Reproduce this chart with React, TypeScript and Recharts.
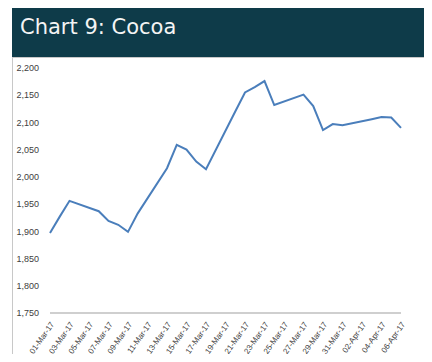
import React from 'react';
import { LineChart, Line, XAxis, YAxis } from 'recharts';

const dates = [
  '01-Mar-17', '02-Mar-17', '03-Mar-17', '06-Mar-17', '07-Mar-17', '08-Mar-17', '09-Mar-17', '10-Mar-17',
  '13-Mar-17', '14-Mar-17', '15-Mar-17', '16-Mar-17', '17-Mar-17', '20-Mar-17', '21-Mar-17', '22-Mar-17',
  '23-Mar-17', '24-Mar-17', '27-Mar-17', '28-Mar-17', '29-Mar-17', '30-Mar-17', '31-Mar-17', '03-Apr-17',
  '04-Apr-17', '05-Apr-17', '06-Apr-17',
];
const prices = [
  1897, 1927, 1956, 1937, 1919, 1912, 1899, 1933,
  2016, 2059, 2050, 2028, 2014, 2120, 2155, 2165,
  2176, 2132, 2151, 2130, 2086, 2097, 2095, 2106,
  2110, 2109, 2090,
];
const tickLabels = [
  '01-Mar-17', '03-Mar-17', '05-Mar-17', '07-Mar-17', '09-Mar-17', '11-Mar-17', '13-Mar-17', '15-Mar-17',
  '17-Mar-17', '19-Mar-17', '21-Mar-17', '23-Mar-17', '25-Mar-17', '27-Mar-17', '29-Mar-17', '31-Mar-17',
  '02-Apr-17', '04-Apr-17', '06-Apr-17',
];
const yTicks = [1750, 1800, 1850, 1900, 1950, 2000, 2050, 2100, 2150, 2200];

const dayIndex = (s: string) => {
  const [d, m] = s.split('-');
  return parseInt(d, 10) - 1 + (m === 'Apr' ? 31 : 0);
};

const data = dates.map((d, i) => ({ day: dayIndex(d), price: prices[i] }));
const xTicks = tickLabels.map(dayIndex);
const labelFor = (v: number) => tickLabels[xTicks.indexOf(v)] ?? '';

export default function App() {
  return (
    <div style={{ position: 'relative', margin: -8, width: 432, height: 362, background: '#fff', overflow: 'hidden' }}>
      <div
        style={{
          position: 'absolute', left: 12, top: 6, width: 416, height: 51, background: '#0e3b49',
          color: '#f4f4f4', fontFamily: '"DejaVu Sans", sans-serif', fontSize: 21, lineHeight: 'normal',
          paddingTop: 9, paddingLeft: 8, boxSizing: 'border-box',
        }}
      >
        Chart 9: Cocoa
      </div>
      <div
        style={{
          position: 'absolute', left: 12, top: 57, width: 416, height: 320, border: '1px solid #c8c8c8',
          boxSizing: 'border-box',
        }}
      />
      <div style={{ position: 'absolute', left: 12, top: 57 }}>
        <LineChart width={416} height={305} data={data} margin={{ top: 11, right: 27, left: 0, bottom: 4 }}>
          <YAxis
            type="number"
            domain={[1750, 2200]}
            ticks={yTicks}
            width={38}
            axisLine={false}
            tickLine={false}
            tickMargin={5}
            tickFormatter={(v: number) => v.toLocaleString('en-US')}
            tick={{ fontSize: 9, fill: '#404040', fontFamily: '"Liberation Sans", sans-serif' }}
          />
          <XAxis
            type="number"
            dataKey="day"
            domain={[0, 36]}
            ticks={xTicks}
            interval={0}
            tickLine={false}
            axisLine={{ stroke: '#bfbfbf', strokeWidth: 1.5 }}
            height={45}
            angle={-55}
            textAnchor="end"
            tickFormatter={labelFor}
            tick={{ fontSize: 8, fill: '#404040', fontFamily: '"Liberation Sans", sans-serif' }}
          />
          <Line
            type="linear"
            dataKey="price"
            stroke="#4a7ebb"
            strokeWidth={2}
            dot={false}
            isAnimationActive={false}
          />
        </LineChart>
      </div>
    </div>
  );
}
